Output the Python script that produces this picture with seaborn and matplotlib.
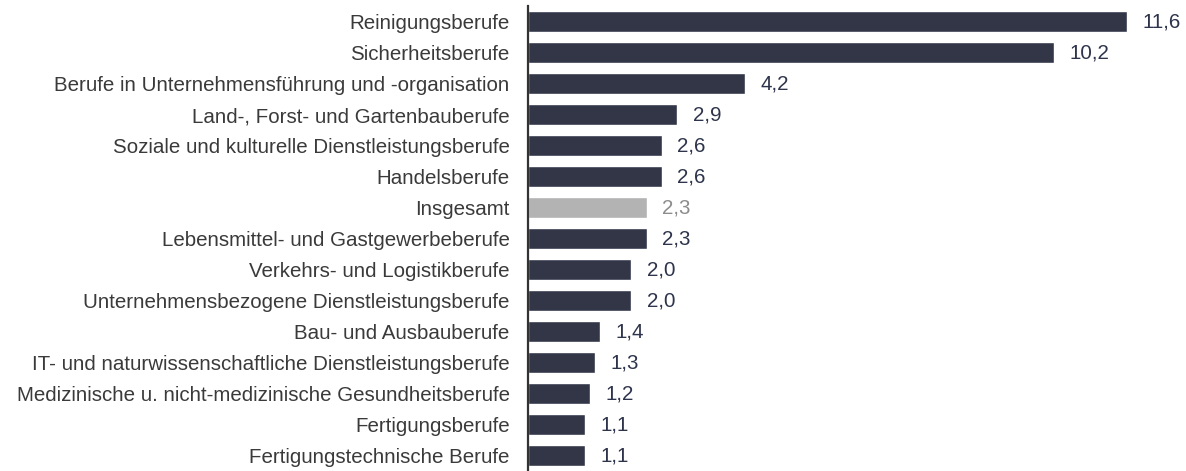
import matplotlib
matplotlib.use("Agg")
import pandas as pd
import matplotlib.pyplot as plt
import seaborn as sns

# Data
berufe = [
    "Reinigungsberufe",
    "Sicherheitsberufe",
    "Berufe in Unternehmensführung und -organisation",
    "Land-, Forst- und Gartenbauberufe",
    "Soziale und kulturelle Dienstleistungsberufe",
    "Handelsberufe",
    "Insgesamt",
    "Lebensmittel- und Gastgewerbeberufe",
    "Verkehrs- und Logistikberufe",
    "Unternehmensbezogene Dienstleistungsberufe",
    "Bau- und Ausbauberufe",
    "IT- und naturwissenschaftliche Dienstleistungsberufe",
    "Medizinische u. nicht-medizinische Gesundheitsberufe",
    "Fertigungsberufe",
    "Fertigungstechnische Berufe",
]
werte = [11.6, 10.2, 4.2, 2.9, 2.6, 2.6, 2.3, 2.3, 2.0, 2.0, 1.4, 1.3, 1.2, 1.1, 1.1]

navy = "#2e344b"
grau = "#b3b3b3"
farben = [grau if b == "Insgesamt" else navy for b in berufe]
df = pd.DataFrame({"beruf": berufe, "wert": werte})

sns.set_style("white")
plt.rcParams["font.family"] = ["Liberation Sans", "DejaVu Sans"]

fig = plt.figure(figsize=(11.86, 4.71), dpi=100)
ax = fig.add_axes([0.445, 0.0, 0.555, 0.987])
sns.barplot(data=df, x="wert", y="beruf", hue="beruf", palette=farben,
            legend=False, width=0.68, ax=ax, orient="h")

ax.set_xlim(0, 12.75)
ax.set_xlabel("")
ax.set_ylabel("")
ax.set_xticks([])
for s in ["top", "right", "bottom"]:
    ax.spines[s].set_visible(False)
ax.spines["left"].set_color("#333333")
ax.spines["left"].set_linewidth(1.6)
ax.tick_params(axis="y", length=0, pad=13, labelsize=14.8, labelcolor="#3a3a3a")

for i, (b, w) in enumerate(zip(berufe, werte)):
    c = "#8c8c8c" if b == "Insgesamt" else navy
    ax.text(w + 0.3, i, f"{w:.1f}".replace(".", ","), va="center", ha="left",
            fontsize=14.8, color=c)

fig.savefig("out.png", dpi=100)
